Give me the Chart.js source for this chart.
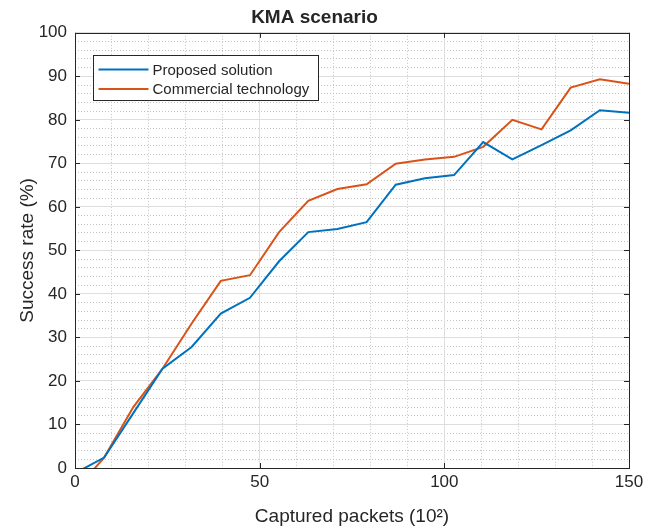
<!DOCTYPE html>
<html>
<head>
<meta charset="utf-8">
<script src="https://cdn.jsdelivr.net/npm/chart.js@4/dist/chart.umd.min.js"></script>
<style>
  body { margin: 0; background: #fff; }
</style>
</head>
<body>
<canvas id="kma" width="659" height="528"></canvas>
<script>
// captured packets, in units of 10^2
const packets = [0, 7.89, 15.79, 23.68, 31.58, 39.47, 47.37, 55.26, 63.16, 71.05,
  78.95, 86.84, 94.74, 102.63, 110.53, 118.42, 126.32, 134.21, 142.11, 150]
const proposed = [-1.2, 2.4, 12.6, 22.8, 27.8, 35.5, 39.1, 47.5, 54.2, 54.9,
  56.5, 65.1, 66.6, 67.3, 74.9, 70.9, 74.2, 77.6, 82.2, 81.6]
const commercial = [-5.2, 2.4, 14.0, 22.8, 33.2, 43.0, 44.3, 54.2, 61.4, 64.1,
  65.2, 69.9, 70.9, 71.5, 73.8, 80.0, 77.8, 87.4, 89.3, 88.3]
const seriesNames = ['Proposed solution', 'Commercial technology']
const xTicks = [0, 50, 100, 150]
const yTicks = [0, 10, 20, 30, 40, 50, 60, 70, 80, 90, 100]

const FONT = '"Liberation Sans", Arial, Helvetica, sans-serif'
const INK = '#262626'

let zip = (xs, ys) => xs.map((x, i) => { return {'x': x, 'y': ys[i]} })

// axes box with inward tick marks, drawn over the lines
const axesBox = {
  id: 'axesBox',
  afterDatasetsDraw(chart) {
    const {ctx, chartArea: a, scales} = chart
    ctx.save()
    ctx.strokeStyle = INK
    ctx.lineWidth = 1
    ctx.beginPath()
    xTicks.forEach(v => {
      const px = Math.round(scales.x.getPixelForValue(v)) + 0.5
      ctx.moveTo(px, a.bottom); ctx.lineTo(px, a.bottom - 5)
      ctx.moveTo(px, a.top); ctx.lineTo(px, a.top + 5)
    })
    yTicks.forEach(v => {
      const py = Math.round(scales.y.getPixelForValue(v)) + 0.5
      ctx.moveTo(a.left, py); ctx.lineTo(a.left + 5, py)
      ctx.moveTo(a.right, py); ctx.lineTo(a.right - 5, py)
    })
    ctx.stroke()
    ctx.strokeRect(Math.round(a.left) + 0.5, Math.round(a.top) + 0.5,
      Math.round(a.right - a.left), Math.round(a.bottom - a.top))
    ctx.restore()
  }
}

// boxed legend in the upper left of the axes
const boxLegend = {
  id: 'boxLegend',
  afterDraw(chart) {
    const {ctx, data} = chart
    const x0 = 93.5, y0 = 55.5, w = 225, h = 45
    ctx.save()
    ctx.fillStyle = '#fff'
    ctx.fillRect(x0, y0, w, h)
    ctx.strokeStyle = INK
    ctx.lineWidth = 1
    ctx.strokeRect(x0, y0, w, h)
    ctx.font = '15px ' + FONT
    ctx.textBaseline = 'middle'
    data.datasets.forEach((ds, i) => {
      const y = y0 + 14 + i * 19.5
      ctx.strokeStyle = ds.borderColor
      ctx.lineWidth = 2
      ctx.beginPath()
      ctx.moveTo(x0 + 5, y); ctx.lineTo(x0 + 55, y)
      ctx.stroke()
      ctx.fillStyle = INK
      ctx.fillText(ds.label, x0 + 59, y + 1)
    })
    ctx.restore()
  }
}

// v4 takes the grid dash pattern from the border options
const minorGrid = { color: '#c4c4c4', lineWidth: 1, drawTicks: false }
const minorBorder = { display: false, dash: [1, 2] }
const majorGrid = { color: '#dedede', lineWidth: 1, drawTicks: false }

new Chart(document.getElementById('kma'), {
  type: 'line',
  data: {
    datasets: [
      { label: seriesNames[0], data: zip(packets, proposed), borderColor: '#0072BD',
        borderWidth: 2, pointRadius: 0, fill: false, tension: 0 },
      { label: seriesNames[1], data: zip(packets, commercial), borderColor: '#D95319',
        borderWidth: 2, pointRadius: 0, fill: false, tension: 0 }
    ]
  },
  options: {
    responsive: false,
    animation: false,
    devicePixelRatio: 1,
    layout: { padding: { left: 0, right: 30, top: 0, bottom: 0 } },
    plugins: {
      legend: { display: false },
      tooltip: { enabled: false },
      title: {
        display: true,
        text: 'KMA scenario',
        color: INK,
        font: { family: FONT, size: 19, weight: 'bold' },
        padding: { top: 6, bottom: 4 }
      }
    },
    scales: {
      xMinor: {
        type: 'linear', position: 'bottom', min: 0, max: 150,
        ticks: { display: false, stepSize: 10 },
        grid: minorGrid, border: minorBorder,
        afterFit: s => { s.height = 0 }
      },
      yMinor: {
        type: 'linear', position: 'left', min: 0, max: 100,
        ticks: { display: false, stepSize: 2 },
        grid: minorGrid, border: minorBorder,
        afterFit: s => { s.width = 0 }
      },
      x: {
        type: 'linear', position: 'bottom', min: 0, max: 150,
        afterBuildTicks: s => { s.ticks = xTicks.map(v => ({ value: v })) },
        ticks: { color: INK, font: { family: FONT, size: 17 }, padding: 4, maxRotation: 0 },
        grid: majorGrid, border: { display: false },
        title: {
          display: true, text: 'Captured packets (10²)', color: INK,
          font: { family: FONT, size: 19 }, padding: { top: 0, bottom: 0 }
        },
        afterFit: s => { s.height = 60 }
      },
      y: {
        type: 'linear', position: 'left', min: 0, max: 100,
        afterBuildTicks: s => { s.ticks = yTicks.map(v => ({ value: v })) },
        ticks: { color: INK, font: { family: FONT, size: 17 }, padding: 8 },
        grid: majorGrid, border: { display: false },
        title: {
          display: true, text: 'Success rate (%)', color: INK,
          font: { family: FONT, size: 19 }, padding: { top: 16, bottom: 0 }
        },
        afterFit: s => { s.width = 75 }
      }
    }
  },
  plugins: [axesBox, boxLegend]
})
</script>
</body>
</html>
